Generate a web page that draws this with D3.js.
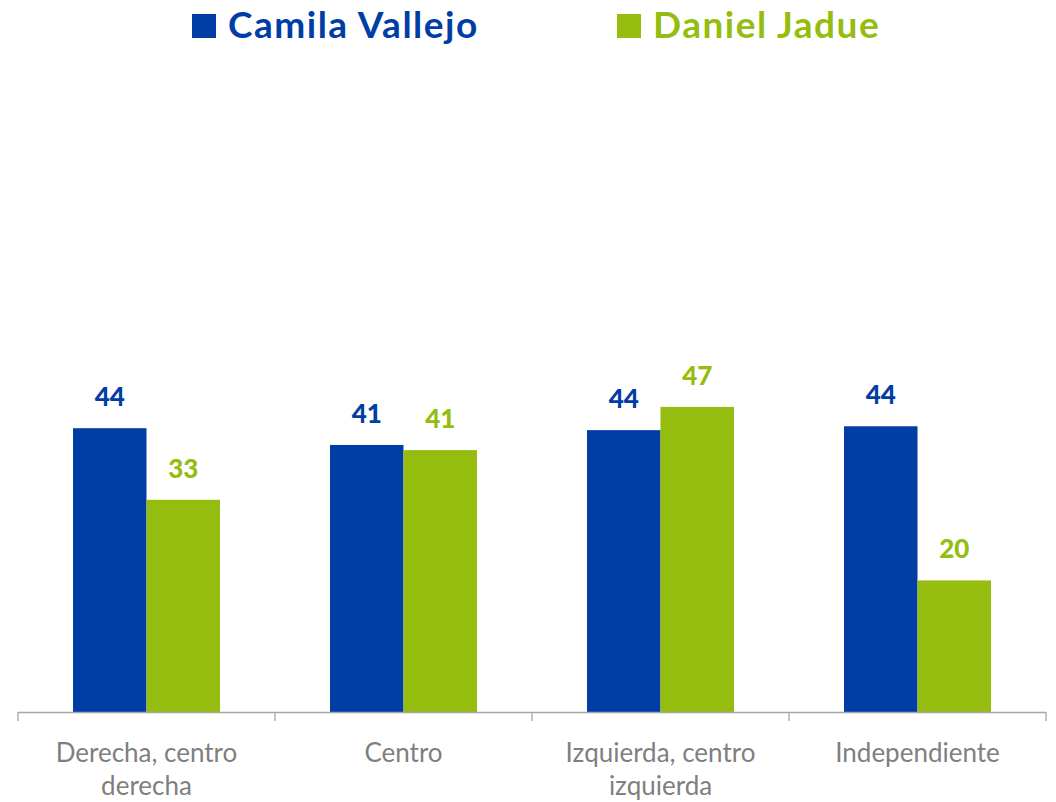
<!DOCTYPE html>
<head>
  <meta charset="utf-8">
  <script src="https://d3js.org/d3.v7.min.js"></script>
  <style>
    body { margin: 0; background: #fff; }
    svg text { font-family: Lato, "Open Sans", sans-serif; }
  </style>
</head>
<body>
<svg width="1056" height="802"></svg>
<script>

// data
var categories = [["Derecha, centro", "derecha"], ["Centro"], ["Izquierda, centro", "izquierda"], ["Independiente"]];
var seriesNames = ["Camila Vallejo", "Daniel Jadue"];
var vallejo = [44.0, 41.4, 43.7, 44.3];
var jadue = [32.9, 40.6, 47.3, 20.4];
var colors = ["#003DA5", "#95BD10"];

var svg = d3.select("svg");
var baseY = 712;

var x = d3.scaleBand()
  .domain(d3.range(categories.length))
  .range([18, 1046])
  .paddingInner(0.428)
  .paddingOuter(0.214);

var inner = d3.scaleBand()
  .domain([0, 1])
  .range([0, x.bandwidth()]);

var y = d3.scaleLinear()
  .domain([0, 100])
  .range([baseY, 67]);

var series = [vallejo, jadue];

// bars and value labels
series.forEach(function(vals, s) {
  svg.append("g").selectAll("rect")
    .data(vals)
    .enter().append("rect")
      .attr("x", function(d, i) { return x(i) + inner(s); })
      .attr("y", function(d) { return y(d); })
      .attr("width", inner.bandwidth())
      .attr("height", function(d) { return baseY - y(d); })
      .style("fill", colors[s]);

  svg.append("g").selectAll("text")
    .data(vals)
    .enter().append("text")
      .attr("x", function(d, i) { return x(i) + inner(s) + inner.bandwidth() / 2; })
      .attr("y", function(d) { return y(d) - 22; })
      .attr("text-anchor", "middle")
      .style("font-size", "26px")
      .style("font-weight", "900")
      .style("fill", colors[s])
      .text(function(d) { return d3.format(".0f")(d); });
});

// axis line + ticks at band boundaries
var axisCol = "#a6a6a6";
svg.append("line")
  .attr("x1", 18).attr("x2", 1046)
  .attr("y1", baseY + 0.5).attr("y2", baseY + 0.5)
  .style("stroke", axisCol).style("stroke-width", 1.3);

var bounds = d3.range(categories.length + 1).map(function(i) { return 18 + i * x.step(); });
svg.append("g").selectAll("line")
  .data(bounds)
  .enter().append("line")
    .attr("x1", function(d) { return d; }).attr("x2", function(d) { return d; })
    .attr("y1", baseY).attr("y2", baseY + 9)
    .style("stroke", axisCol).style("stroke-width", 1.3);

// category labels
var lab = svg.append("g").selectAll("text")
  .data(categories)
  .enter().append("text")
    .attr("x", function(d, i) { return x(i) + x.bandwidth() / 2; })
    .attr("y", 762)
    .attr("text-anchor", "middle")
    .style("font-size", "26px")
    .style("fill", "#7f7f7f");
lab.selectAll("tspan")
  .data(function(d) { return d; })
  .enter().append("tspan")
    .attr("x", function() { return d3.select(this.parentNode).attr("x"); })
    .attr("dy", function(d, i) { return i ? 33 : 0; })
    .text(function(d) { return d; });

// legend
var legX = [192, 617];
var leg = svg.append("g").selectAll("g")
  .data(seriesNames)
  .enter().append("g")
    .attr("transform", function(d, i) { return "translate(" + legX[i] + ",0)"; });
leg.append("rect")
  .attr("x", 0).attr("y", 14)
  .attr("width", 24).attr("height", 24)
  .style("fill", function(d, i) { return colors[i]; });
leg.append("text")
  .attr("x", 36).attr("y", 38)
  .style("font-size", "37px")
  .style("font-weight", "bold")
  .style("letter-spacing", "1.5px")
  .style("fill", function(d, i) { return colors[i]; })
  .text(function(d) { return d; });

</script>
</body>
</html>
